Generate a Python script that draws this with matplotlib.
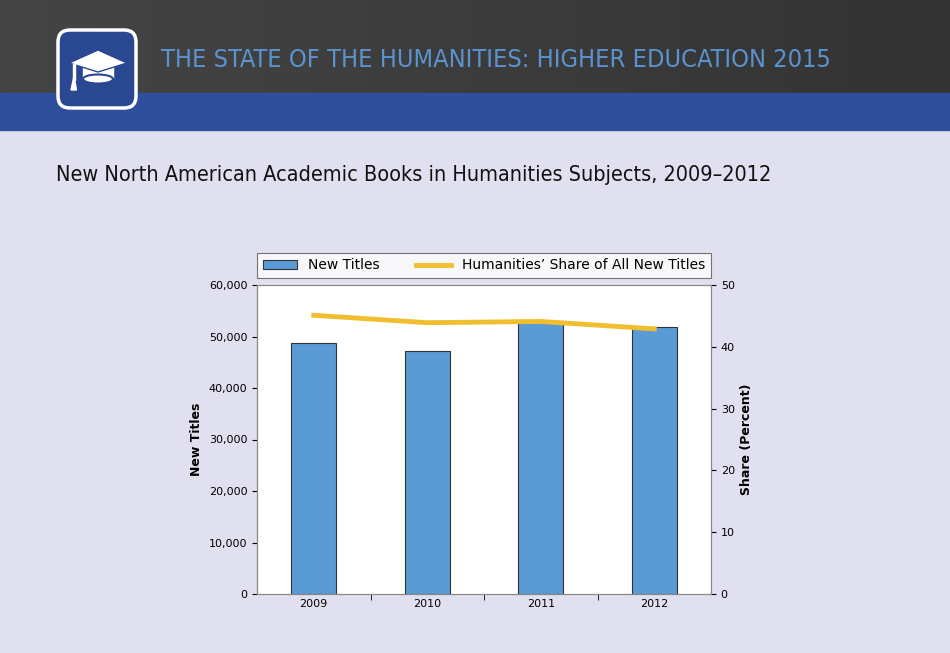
import matplotlib
matplotlib.use("Agg")
import matplotlib.pyplot as plt
from matplotlib.patches import FancyBboxPatch, Rectangle, Polygon, Ellipse
import numpy as np

years = ["2009", "2010", "2011", "2012"]
new_titles = [48700, 47200, 53000, 51800]
share_pct = [45.1, 43.9, 44.1, 42.9]

W, H = 950, 653
fig = plt.figure(figsize=(W / 100, H / 100), dpi=100)
fig.patch.set_facecolor("#e1e0f0")

# header
bg = fig.add_axes([0, 0, 1, 1], zorder=0)
bg.set_xlim(0, W)
bg.set_ylim(H, 0)
bg.axis("off")
grad = np.linspace(0.27, 0.2, 256)[None, :]
bg.imshow(np.dstack([grad, grad, grad]), extent=(0, W, 93, 0), aspect="auto")
bg.add_patch(Rectangle((0, 93), W, 37, color="#2f4f9c"))
bg.add_patch(FancyBboxPatch((58, 30), 78, 78, boxstyle="round,pad=0,rounding_size=12",
                            fc="#2a4792", ec="white", lw=2.5))
bg.add_patch(Polygon([[83, 63], [113, 63], [113, 78], [83, 78]], color="white"))
bg.add_patch(Ellipse((98, 79), 30, 9, fc="white", ec="#2a4792", lw=1.5))
bg.add_patch(Polygon([[69, 63], [98, 50], [127, 63], [98, 72]], fc="white", ec="#2a4792", lw=1))
bg.add_patch(Rectangle((73, 64), 1.6, 16, color="white"))
bg.add_patch(Polygon([[71, 90], [76.5, 90], [74, 76]], color="white"))
bg.text(161, 60, "THE STATE OF THE HUMANITIES: HIGHER EDUCATION 2015",
        color="#5b93cf", fontsize=18.2, family="DejaVu Sans", fontstretch="condensed",
        va="center")
bg.text(56, 175, "New North American Academic Books in Humanities Subjects, 2009\u20132012",
        color="#111111", fontsize=15.5, family="DejaVu Sans", fontstretch="condensed",
        va="center")

# chart
ax = fig.add_axes([257 / W, 1 - 594 / H, (711 - 257) / W, (594 - 285) / H], zorder=2)
ax.set_facecolor("white")
x = np.arange(len(years))
bars = ax.bar(x, new_titles, width=0.4, color="#5b9bd5", edgecolor="#333333", lw=0.8,
              label="New Titles")
ax.set_xlim(-0.5, 3.5)
ax.set_ylim(0, 60000)
ax.set_yticks(range(0, 60001, 10000))
ax.set_yticklabels([f"{v:,}" for v in range(0, 60001, 10000)], fontsize=8)
ax.set_xticks(x)
ax.set_xticklabels(years, fontsize=8)
ax.set_xticks([0.5, 1.5, 2.5], minor=True)
ax.tick_params(axis="x", which="major", length=0)
ax.tick_params(axis="x", which="minor", length=4)
ax.set_ylabel("New Titles", fontsize=9, fontweight="bold")
for s in ax.spines.values():
    s.set_color("#888888")

ax2 = ax.twinx()
line, = ax2.plot(x, share_pct, color="#f0bf2f", lw=3.5,
                 label="Humanities\u2019 Share of All New Titles")
ax2.set_ylim(0, 50)
ax2.set_yticks(range(0, 51, 10))
ax2.tick_params(labelsize=8)
ax2.set_ylabel("Share (Percent)", fontsize=9, fontweight="bold")
for s in ax2.spines.values():
    s.set_color("#888888")

leg = fig.legend([bars, line], ["New Titles", "Humanities\u2019 Share of All New Titles"],
                 loc="lower left", mode="expand", ncol=2,
                 bbox_to_anchor=(257 / W, 1 - 278 / H, (711 - 257) / W, 24 / H),
                 fontsize=10, frameon=True, fancybox=False, edgecolor="#555555",
                 handlelength=2.5, borderaxespad=0, borderpad=0.4)
leg.get_frame().set_linewidth(0.8)

fig.savefig("out.png", dpi=100, facecolor=fig.get_facecolor())
